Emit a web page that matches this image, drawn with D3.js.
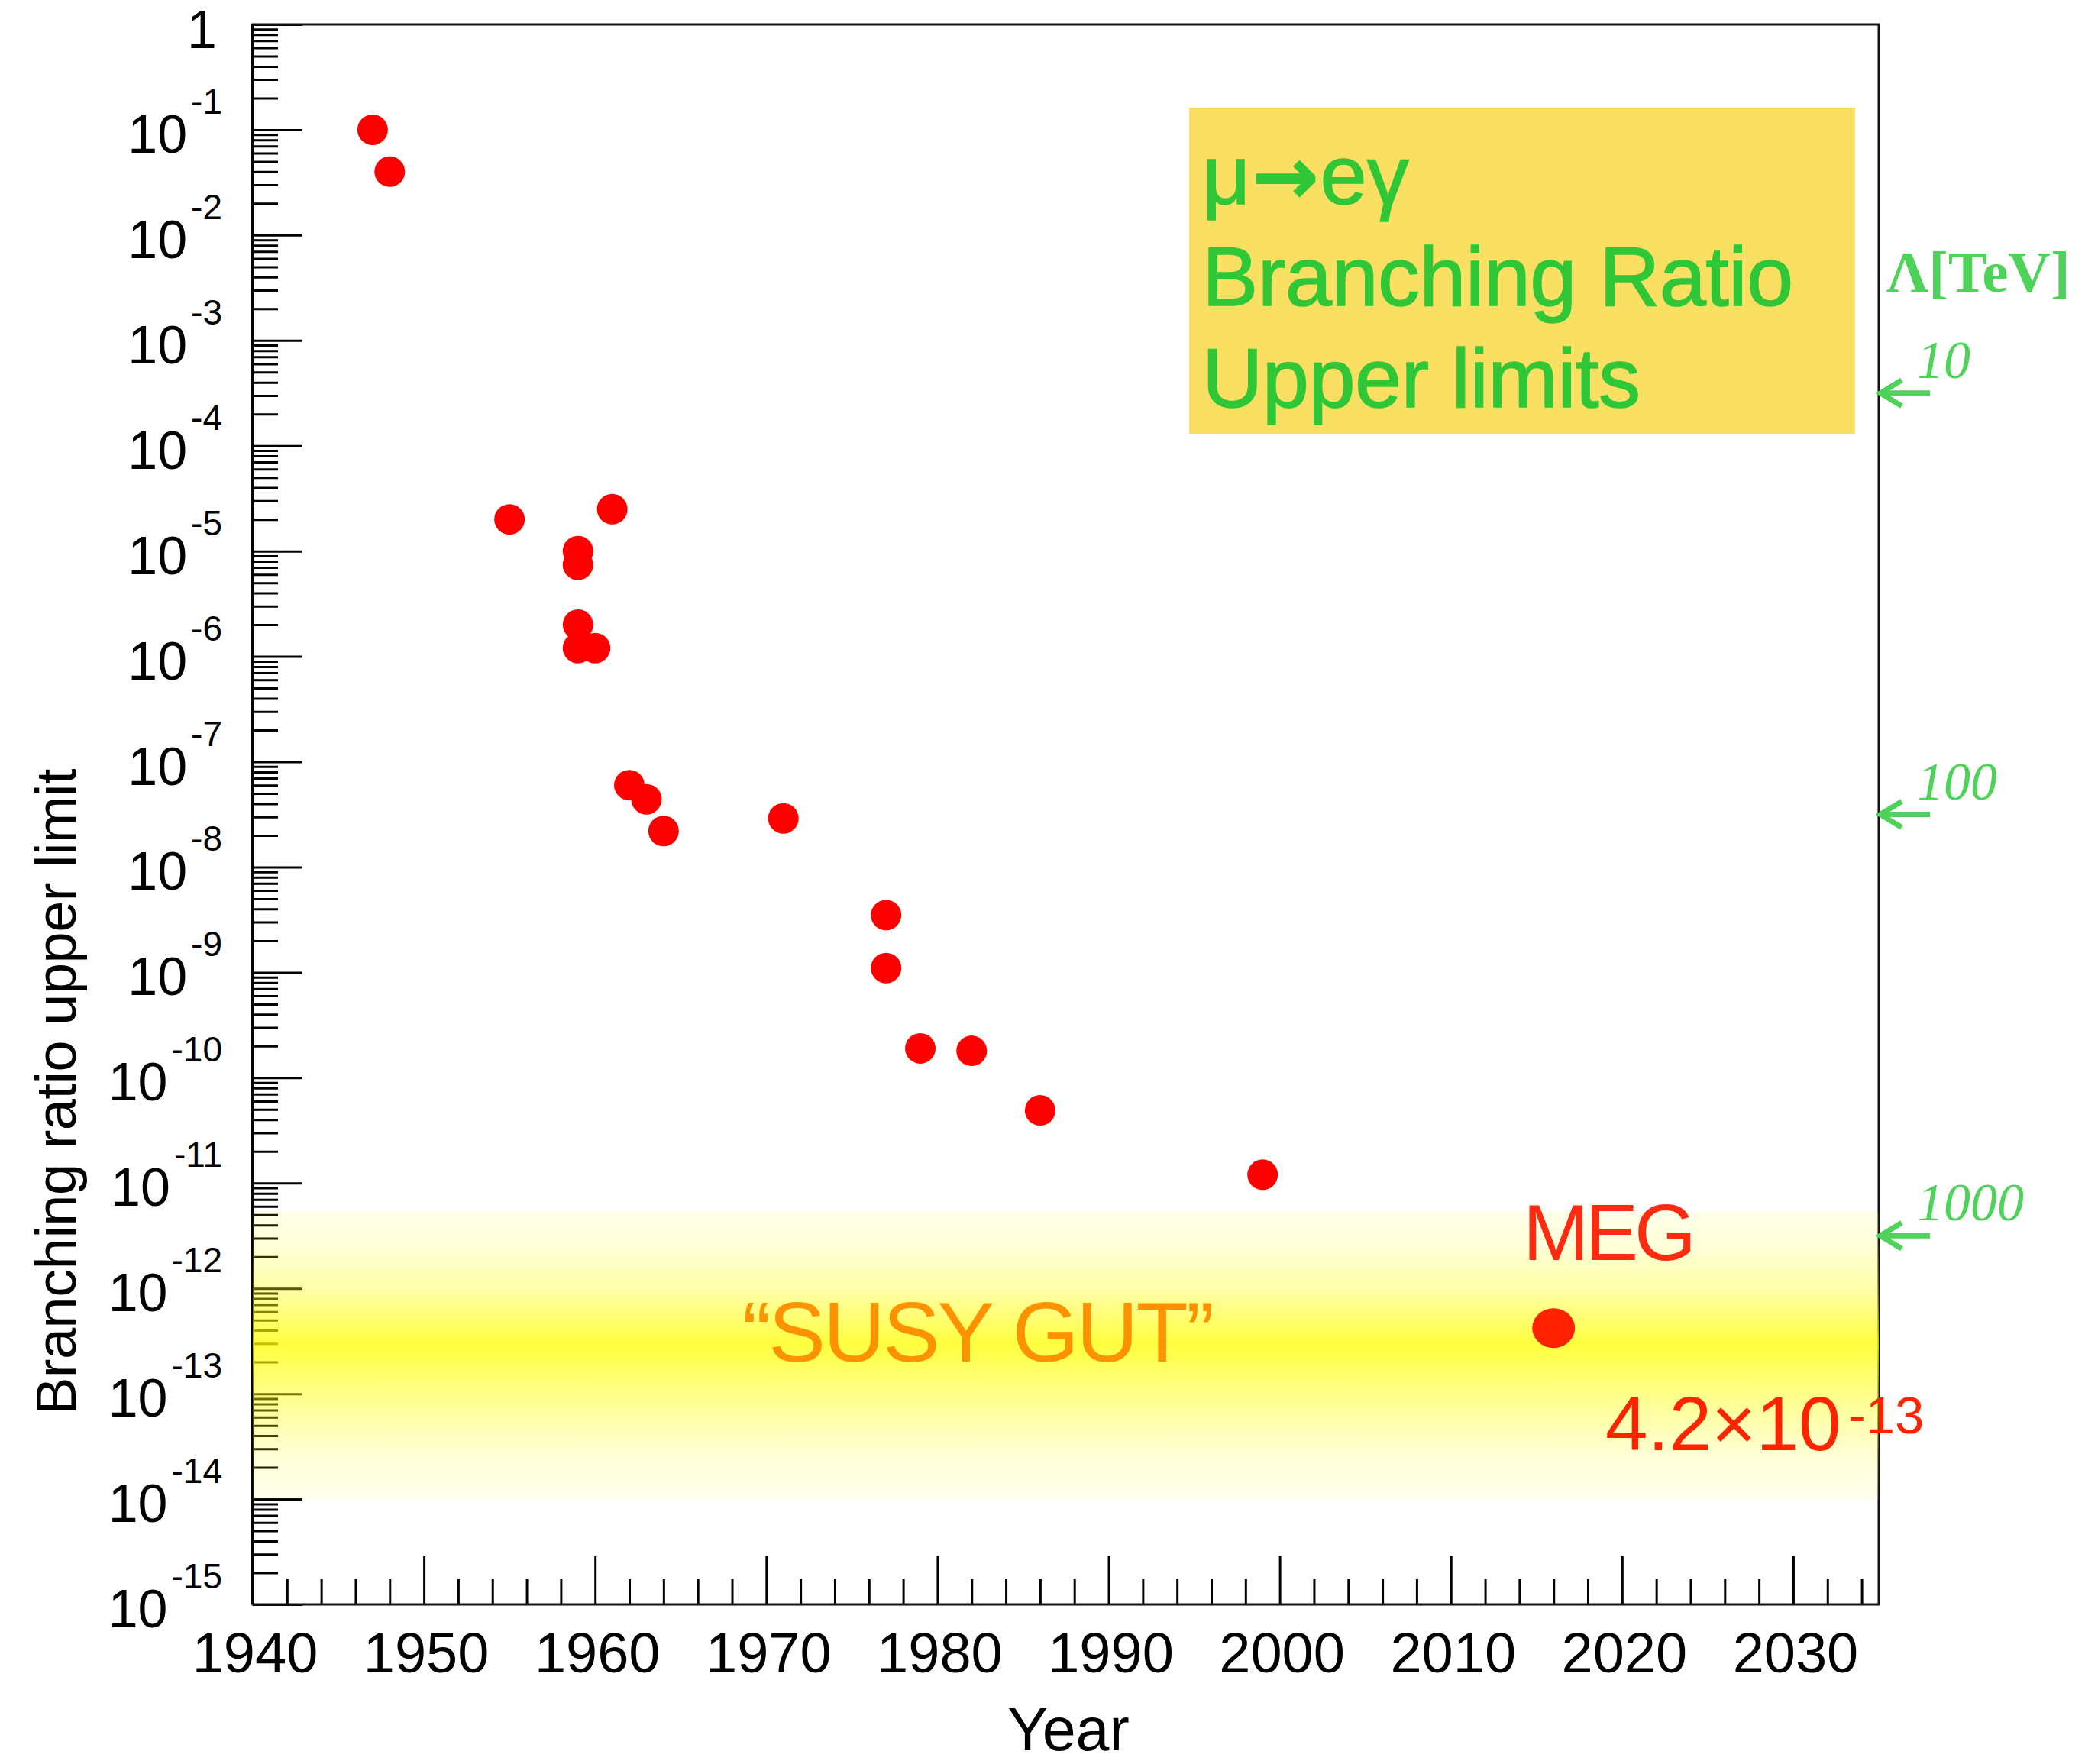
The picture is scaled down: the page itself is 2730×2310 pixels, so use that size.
<!DOCTYPE html>
<html><head><meta charset="utf-8">
<script src="https://cdn.jsdelivr.net/npm/d3@7"></script>
<style>html,body{margin:0;padding:0;background:#fff;} svg{display:block;}</style>
</head><body>
<script>
// ---------------- data ----------------
const years  = [1947, 1948, 1955, 1959, 1959, 1959, 1959, 1960, 1961, 1962, 1963, 1964, 1971, 1977, 1977, 1979, 1982, 1986, 1999];
const limits = [1e-1, 4e-2, 2e-5, 1e-5, 7.4e-6, 2e-6, 1.2e-6, 1.2e-6, 2.5e-5, 6e-8, 4.4e-8, 2.2e-8, 2.9e-8, 3.5e-9, 1.1e-9, 1.9e-10, 1.8e-10, 4.9e-11, 1.2e-11];
const megYear  = [2016];
const megLimit = [4.2e-13];
const susyBand = [1e-14, 5.4e-12];
const lambdaTeV = [10, 100, 1000];
const lambdaBR  = [3.16e-4, 3.16e-8, 3.16e-12];
const xTickYears = [1940, 1950, 1960, 1970, 1980, 1990, 2000, 2010, 2020, 2030];
const yTickExps  = [0, -1, -2, -3, -4, -5, -6, -7, -8, -9, -10, -11, -12, -13, -14, -15];
const titleLines = ["Branching Ratio", "Upper limits"];

// ---------------- layout ----------------
const W = 2730, H = 2310;
const X0 = 331, X1 = 2460, Y0 = 32, Y1 = 2101;
const svg = d3.select("body").append("svg").attr("width", W).attr("height", H);
const x = d3.scaleLinear().domain([1940, 2035]).range([X0, X1]);
const y = d3.scaleLog().domain([1e-15, 1]).range([Y1, Y0]);
const SANS = "'Liberation Sans', Arial, Helvetica, sans-serif";
const SERIF = "'Liberation Serif', 'Times New Roman', serif";

const defs = svg.append("defs");
const grad = defs.append("linearGradient").attr("id", "band").attr("x1", 0).attr("y1", 0).attr("x2", 0).attr("y2", 1);
[[0, 0.08], [0.12, 0.15], [0.28, 0.36], [0.38, 0.58], [0.46, 0.76], [0.54, 0.62], [0.7, 0.36], [0.86, 0.15], [1, 0.07]]
  .forEach(([o, a]) => grad.append("stop").attr("offset", o).attr("stop-color", "#ffff00").attr("stop-opacity", a));

// ---------------- axes ----------------
const decades = yTickExps.map(e => Math.pow(10, e));
const minorY = [];
yTickExps.slice(1).forEach(e => { for (let k = 2; k <= 9; k++) minorY.push(k * Math.pow(10, e)); });

const gyMinor = svg.append("g").attr("transform", `translate(${X0},0)`)
  .call(d3.axisRight(y).tickValues(minorY).tickSize(33).tickFormat(""));
const gyMajor = svg.append("g").attr("transform", `translate(${X0},0)`)
  .call(d3.axisRight(y).tickValues(decades).tickSize(65).tickFormat(""));

const minorX = d3.range(1942, 2036, 2).filter(v => v % 10 !== 0);
const gxMinor = svg.append("g").attr("transform", `translate(0,${Y1})`)
  .call(d3.axisTop(x).tickValues(minorX).tickSize(33).tickFormat(""));
const gxMajor = svg.append("g").attr("transform", `translate(0,${Y1})`)
  .call(d3.axisTop(x).tickValues(xTickYears).tickSize(63).tickFormat(""));

[gyMinor, gyMajor, gxMinor, gxMajor].forEach(g => {
  g.select(".domain").remove();
  g.selectAll("line").attr("stroke", "#000").attr("stroke-width", 3);
});

// frame
svg.append("rect").attr("x", X0).attr("y", Y0).attr("width", X1 - X0).attr("height", Y1 - Y0)
  .attr("fill", "none").attr("stroke", "#111").attr("stroke-width", 3);
svg.append("line").attr("x1", X0).attr("x2", X0).attr("y1", Y0).attr("y2", Y1)
  .attr("stroke", "#000").attr("stroke-width", 4);

// y tick labels
yTickExps.forEach(e => {
  const ty = y(Math.pow(10, e));
  if (e === 0) {
    svg.append("text").attr("x", 284).attr("y", ty + 31).attr("text-anchor", "end")
      .attr("font-family", SANS).attr("font-size", 70).text("1");
  } else {
    const ex = svg.append("text").attr("x", 291).attr("y", ty - 21).attr("text-anchor", "end")
      .attr("font-family", SANS).attr("font-size", 46).text(String(e));
    const w = ex.node().getComputedTextLength();
    svg.append("text").attr("x", 291 - w - 5).attr("y", ty + 30).attr("text-anchor", "end")
      .attr("font-family", SANS).attr("font-size", 70).text("10");
  }
});

// x tick labels
svg.append("g").selectAll("text").data(xTickYears).join("text")
  .attr("x", d => x(d) + 3).attr("y", 2190).attr("text-anchor", "middle")
  .attr("font-family", SANS).attr("font-size", 74).text(d => d);

// axis titles
svg.append("text").attr("x", 1399).attr("y", 2292).attr("text-anchor", "middle")
  .attr("font-family", SANS).attr("font-size", 79).text("Year");
svg.append("text").attr("transform", "translate(99,1430) rotate(-90)").attr("text-anchor", "middle")
  .attr("font-family", SANS).attr("font-size", 74).attr("letter-spacing", -0.5).text("Branching ratio upper limit");

// ---------------- SUSY GUT band ----------------
svg.append("rect").attr("x", X0).attr("width", X1 - X0)
  .attr("y", y(susyBand[1])).attr("height", y(susyBand[0]) - y(susyBand[1]))
  .attr("fill", "url(#band)");

// ---------------- title box ----------------
const GREEN = "#2fc737";
svg.append("rect").attr("x", 1557).attr("y", 141).attr("width", 872).attr("height", 427).attr("fill", "#f9e063");
const t0 = svg.append("text").attr("x", 1574).attr("y", 267)
  .attr("font-family", SANS).attr("font-size", 110).attr("fill", GREEN)
  .attr("stroke", GREEN).attr("stroke-width", 1.5);
t0.append("tspan").text("\u03bc");
t0.append("tspan").attr("font-family", "'DejaVu Sans', sans-serif").attr("font-weight", "bold")
  .attr("font-size", 104).attr("dx", 2).text("\u2192");
t0.append("tspan").attr("dx", 2).text("e\u03b3");
svg.append("g").selectAll("text").data(titleLines).join("text")
  .attr("x", 1574).attr("y", (d, i) => 400 + i * 133)
  .attr("font-family", SANS).attr("font-size", 110).attr("letter-spacing", -0.6)
  .attr("fill", GREEN).attr("stroke", GREEN).attr("stroke-width", 1.5).text(d => d);

// ---------------- data points ----------------
svg.append("g").selectAll("circle").data(years.map((yr, i) => ({ yr, v: limits[i] }))).join("circle")
  .attr("cx", d => x(d.yr)).attr("cy", d => y(d.v)).attr("r", 20).attr("fill", "#ff0000");

svg.append("g").selectAll("ellipse").data(megYear.map((yr, i) => ({ yr, v: megLimit[i] }))).join("ellipse")
  .attr("cx", d => x(d.yr)).attr("cy", d => y(d.v)).attr("rx", 28).attr("ry", 26).attr("fill", "#ff2200");

// ---------------- annotations ----------------
svg.append("text").attr("x", 972).attr("y", 1783)
  .attr("font-family", SANS).attr("font-size", 112).attr("letter-spacing", -3)
  .attr("fill", "#ff9200").text("\u201cSUSY GUT\u201d");

svg.append("text").attr("x", 1994).attr("y", 1650)
  .attr("font-family", SANS).attr("font-size", 104).attr("letter-spacing", -5)
  .attr("fill", "#ff2a10").text("MEG");

const lim = svg.append("text").attr("x", 2102).attr("y", 1899)
  .attr("font-family", SANS).attr("font-size", 100).attr("fill", "#ff2400");
lim.append("tspan").text("4.2\u00d710");
lim.append("tspan").attr("font-size", 69).attr("dx", 9).attr("dy", -22).text("-13");

// Lambda scale
const LGREEN = "#4fd25a";
svg.append("text").attr("x", 2470).attr("y", 382)
  .attr("font-family", SERIF).attr("font-weight", "bold").attr("font-size", 77)
  .attr("fill", LGREEN).text("\u039b[TeV]");

const lam = svg.append("g").selectAll("g").data(lambdaTeV.map((t, i) => ({ t, v: lambdaBR[i] }))).join("g")
  .attr("transform", d => `translate(${X1},${y(d.v)})`);
lam.append("line").attr("x1", 67).attr("x2", 4).attr("y1", 0).attr("y2", 0)
  .attr("stroke", LGREEN).attr("stroke-width", 7);
lam.append("polyline").attr("points", "30,-17 2,0 30,17")
  .attr("fill", "none").attr("stroke", LGREEN).attr("stroke-width", 7).attr("stroke-linejoin", "miter");
lam.append("text").attr("x", 50).attr("y", -20)
  .attr("font-family", SERIF).attr("font-style", "italic").attr("font-size", 70)
  .attr("fill", LGREEN).text(d => d.t);
</script>
</body></html>
